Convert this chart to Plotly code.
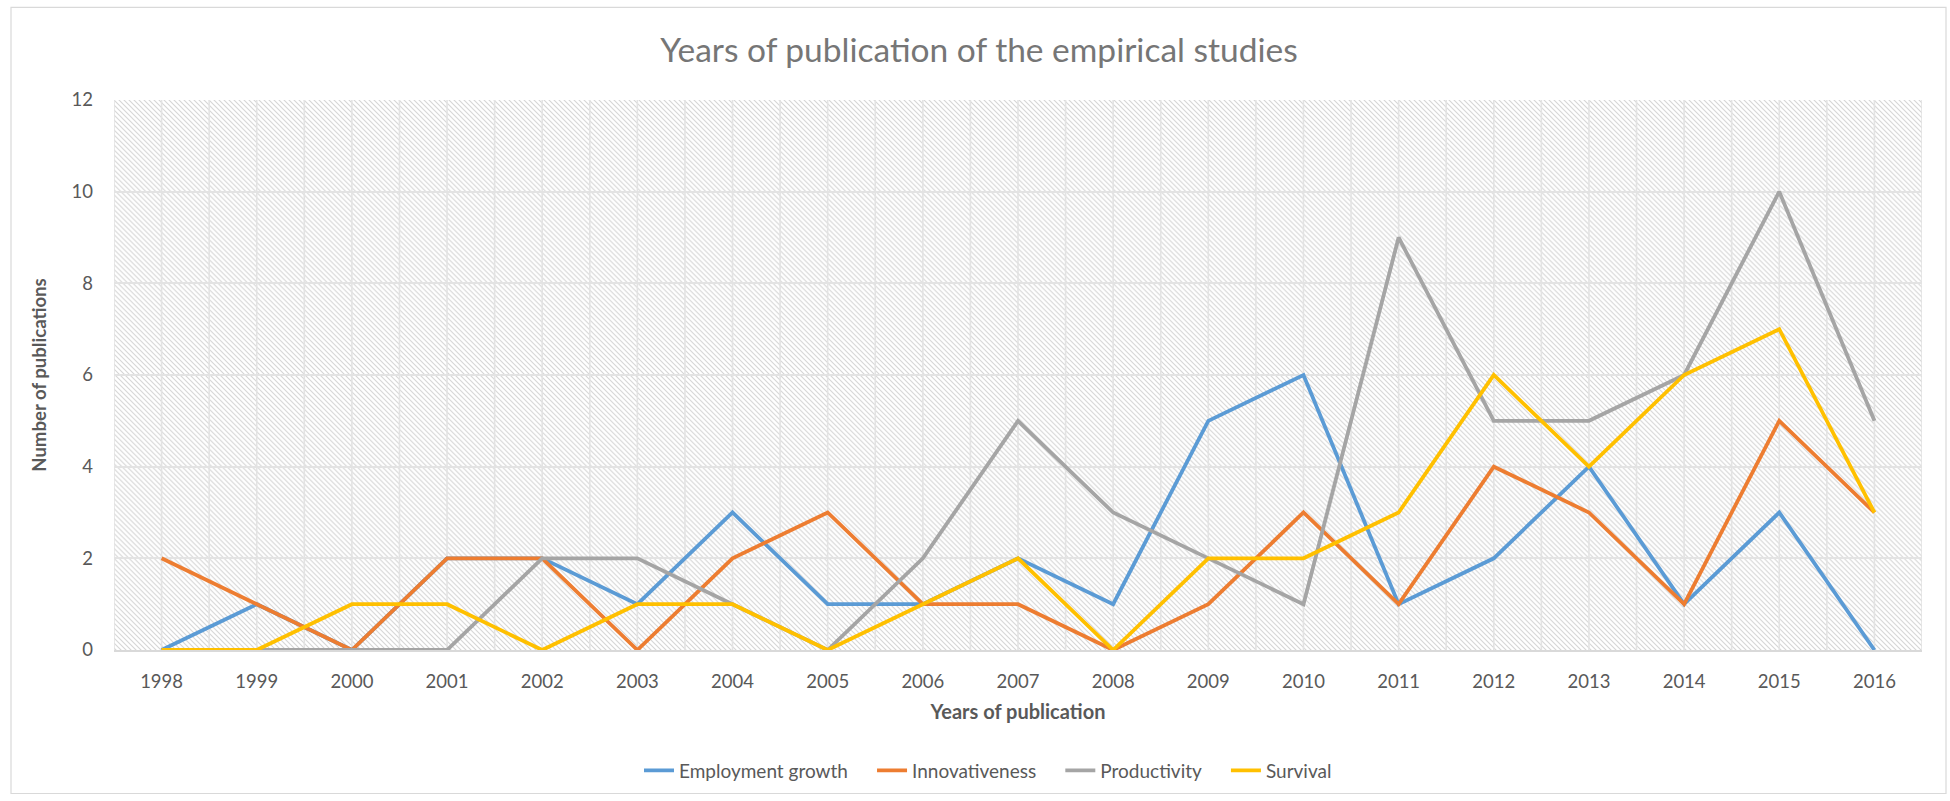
import urllib.parse
import plotly.graph_objects as go

# Publication counts per year for each outcome studied
years = ["1998", "1999", "2000", "2001", "2002", "2003", "2004", "2005", "2006", "2007",
         "2008", "2009", "2010", "2011", "2012", "2013", "2014", "2015", "2016"]
employment_growth = [0, 1, 0, 2, 2, 1, 3, 1, 1, 2, 1, 5, 6, 1, 2, 4, 1, 3, 0]
innovativeness = [2, 1, 0, 2, 2, 0, 2, 3, 1, 1, 0, 1, 3, 1, 4, 3, 1, 5, 3]
productivity = [0, 0, 0, 0, 2, 2, 1, 0, 2, 5, 3, 2, 1, 9, 5, 5, 6, 10, 5]
survival = [0, 0, 1, 1, 0, 1, 1, 0, 1, 2, 0, 2, 2, 3, 6, 4, 6, 7, 3]

series_names = ["Employment growth", "Innovativeness", "Productivity", "Survival"]
series_values = [employment_growth, innovativeness, productivity, survival]
series_colors = ["#5B9BD5", "#ED7D31", "#A5A5A5", "#FFC000"]

y_ticks = [0, 2, 4, 6, 8, 10, 12]

W, H = 1950, 801
M_L, M_R, M_T, M_B = 114, 28, 100, 149
PW, PH = W - M_L - M_R, H - M_T - M_B

FONT = "Lato"
TEXT = "#595959"
LEGEND_PAD = "\u2003\u00a0"  # extra space between horizontal legend entries

xpos = list(range(len(years)))

fig = go.Figure()
for i, (name, vals, col) in enumerate(zip(series_names, series_values, series_colors)):
    label = name + (LEGEND_PAD if i < len(series_names) - 1 else "")
    fig.add_trace(go.Scatter(
        x=xpos, y=vals, name=label, mode="lines",
        line=dict(color=col, width=3.8),
    ))

# Diagonal hatch fill for the plot area, drawn beneath the gridlines
hatch_svg = (
    f'<svg xmlns="http://www.w3.org/2000/svg" width="{PW}" height="{PH}">'
    '<defs><pattern id="h" width="5" height="5" patternUnits="userSpaceOnUse">'
    '<path d="M-1,-1 L6,6 M-1,4 L1,6 M4,-1 L6,1" stroke="#d5d5d5" stroke-width="1.1"/>'
    '</pattern></defs>'
    f'<rect width="{PW}" height="{PH}" fill="#ffffff"/>'
    f'<rect width="{PW}" height="{PH}" fill="url(#h)"/>'
    '</svg>'
)
hatch_uri = "data:image/svg+xml;charset=utf-8," + urllib.parse.quote(hatch_svg)

fig.add_layout_image(dict(
    source=hatch_uri, xref="paper", yref="paper",
    x=0, y=1, sizex=1, sizey=1, xanchor="left", yanchor="top",
    sizing="stretch", layer="below",
))

# Half-category vertical gridlines and the outer chart frame
grid_color = "#e3e3e3"
shapes = []
for i in range(len(years) * 2 + 1):
    xv = -0.5 + i * 0.5
    shapes.append(dict(type="line", xref="x", yref="paper", x0=xv, x1=xv, y0=0, y1=1,
                       line=dict(color=grid_color, width=1.6), layer="between"))


def px_x(p):
    return (p - M_L) / PW


def px_y(p):
    return (H - M_B - p) / PH


shapes.append(dict(type="rect", xref="paper", yref="paper",
                   x0=px_x(11), x1=px_x(1946), y0=px_y(796), y1=px_y(7),
                   line=dict(color="#d9d9d9", width=1.2), fillcolor="rgba(0,0,0,0)",
                   layer="below"))

fig.update_layout(
    width=W, height=H,
    margin=dict(l=M_L, r=M_R, t=M_T, b=M_B),
    paper_bgcolor="white", plot_bgcolor="rgba(0,0,0,0)",
    font=dict(family=FONT, color=TEXT, size=18),
    title=dict(text="Years of publication of the empirical studies",
               font=dict(family=FONT, size=33.5, color="#767676"),
               x=979 / W, xanchor="center", y=1 - 50 / H, yanchor="middle"),
    shapes=shapes,
    showlegend=True,
    legend=dict(orientation="h", xanchor="center", yanchor="middle",
                x=px_x(988), y=px_y(773), font=dict(size=19, color=TEXT),
                bgcolor="rgba(0,0,0,0)", itemwidth=30),
    xaxis=dict(
        range=[-0.5, len(years) - 0.5], tickmode="array", tickvals=xpos, ticktext=years,
        showgrid=False, zeroline=False, showline=True, linecolor="#d9d9d9", linewidth=1.5,
        ticks="", ticklabelstandoff=14, tickfont=dict(size=18.5, color=TEXT),
        title=dict(text="<b>Years of publication</b>", font=dict(size=20, color=TEXT), standoff=14),
    ),
    yaxis=dict(
        range=[0, 12], tickmode="array", tickvals=y_ticks,
        showgrid=True, gridcolor=grid_color, gridwidth=1.6, zeroline=False,
        showline=False, ticks="", ticklabelstandoff=20, tickfont=dict(size=18.5, color=TEXT),
        title=dict(text="<b>Number of publications</b>", font=dict(size=18.6, color=TEXT), standoff=20),
    ),
    hovermode=False,
)

fig.write_html("out.html")
